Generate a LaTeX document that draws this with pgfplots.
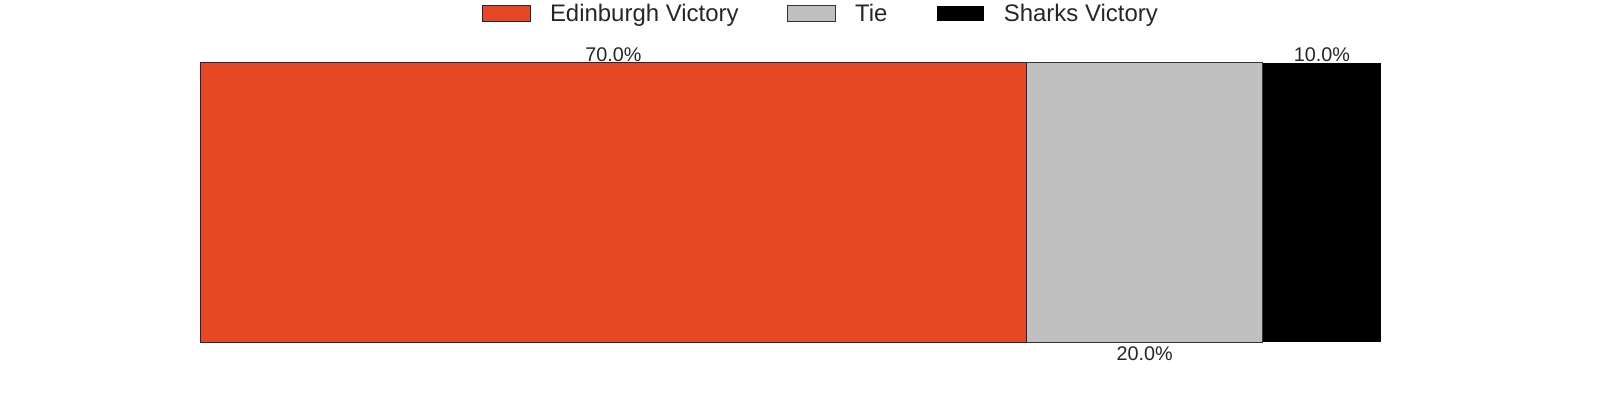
\documentclass[border=0pt]{standalone}
\usepackage{fontspec}
\setmainfont{Liberation Sans}
\usepackage{pgfplots}
\pgfplotsset{compat=1.18}
\definecolor{edin}{RGB}{230,72,35}
\definecolor{tie}{RGB}{192,192,192}
\definecolor{edgenavy}{RGB}{35,35,75}
\definecolor{txt}{RGB}{38,38,38}
\begin{document}
\begin{tikzpicture}
\path[use as bounding box] (0,0) rectangle (1152bp,288bp);
\begin{axis}[
  at={(144bp,41.76bp)}, anchor=south west,
  scale only axis, width=850.3bp, height=201.6bp,
  xbar stacked, bar width=1,
  xmin=0, xmax=100, ymin=-0.5, ymax=0.5,
  hide axis, clip=false,
  legend columns=3,
  legend style={at={(0.526,1.172)}, anchor=center, draw=none, fill=none,
    font=\fontsize{17.3}{20}\selectfont, text=txt,
    /tikz/every odd column/.append style={column sep=11.8bp},
    /tikz/every even column/.append style={column sep=32.8bp},
    cells={anchor=west}},
  mylegend/.style={legend image code/.code={\draw[##1, line width=0.7bp] (0bp,-5.8bp) rectangle (34.6bp,5.8bp);}},
]
\addplot[fill=edin, draw=edgenavy, line width=0.7bp, mylegend] coordinates {(70,0)};
\addlegendentry{Edinburgh Victory}
\addplot[fill=tie, draw=black!80, line width=0.7bp, mylegend] coordinates {(20,0)};
\addlegendentry{Tie}
\addplot[fill=black, draw=white, line width=0.7bp, mylegend] coordinates {(10,0)};
\addlegendentry{Sharks Victory}
\node[anchor=base, inner sep=0pt, text=txt, font=\fontsize{14.3}{16}\selectfont, yshift=0bp] at (axis cs:35,0.5) {70.0\%};
\node[anchor=north, inner sep=0pt, text=txt, font=\fontsize{14.3}{16}\selectfont, yshift=-3.0bp] at (axis cs:80,-0.5) {20.0\%};
\node[anchor=base, inner sep=0pt, text=txt, font=\fontsize{14.3}{16}\selectfont, yshift=0bp] at (axis cs:95,0.5) {10.0\%};
\end{axis}
\end{tikzpicture}
\end{document}
